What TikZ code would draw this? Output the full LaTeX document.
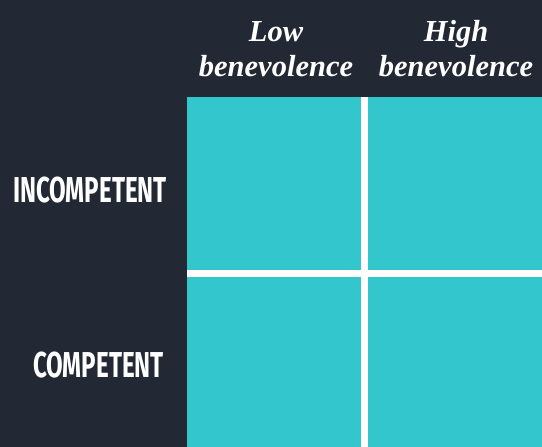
\documentclass[tikz,border=0pt]{standalone}
\usepackage{fontspec}
\newfontfamily\headfont{Liberation Serif}
\newfontfamily\rowfont[FakeStretch=0.67]{Fira Sans}
\definecolor{board}{HTML}{232934}
\definecolor{cell}{HTML}{33C6CD}

\begin{document}
\begin{tikzpicture}[x=1pt, y=-1pt,
	cellbox/.style={fill=cell, inner sep=0pt, minimum width=174pt, minimum height=173pt},
	head/.style={text=white, align=center, inner sep=0pt, font=\headfont\bfseries\itshape\fontsize{30.5}{35}\selectfont},
	rowlabel/.style={text=white, anchor=east, inner sep=0pt, font=\rowfont\bfseries\fontsize{36}{36}\selectfont}]
	%background
	\fill[board] (0,0) rectangle (542,447);
	\useasboundingbox (0,0) rectangle (542,447);
	
	%white cross behind the cells
	\fill[white] (187,97) rectangle (542,447);
	
	%the four cells
	\node[cellbox, anchor=north west] (lowinc) at (187,97){};
	\node[cellbox, anchor=north east] (highinc) at (542,97){};
	\node[cellbox, anchor=south west, minimum height=170pt] (lowcomp) at (187,447){};
	\node[cellbox, anchor=south east, minimum height=170pt] (highcomp) at (542,447){};
	
	%column heads
	\node[head] (lowhead) at (276,49){Low\\benevolence};
	\node[head] (highhead) at (456,49){High\\benevolence};
	
	%row labels
	\node[rowlabel] (inclabel) at (167,190){INCOMPETENT};
	\node[rowlabel] (complabel) at (164,365){COMPETENT};
\end{tikzpicture}
\end{document}
